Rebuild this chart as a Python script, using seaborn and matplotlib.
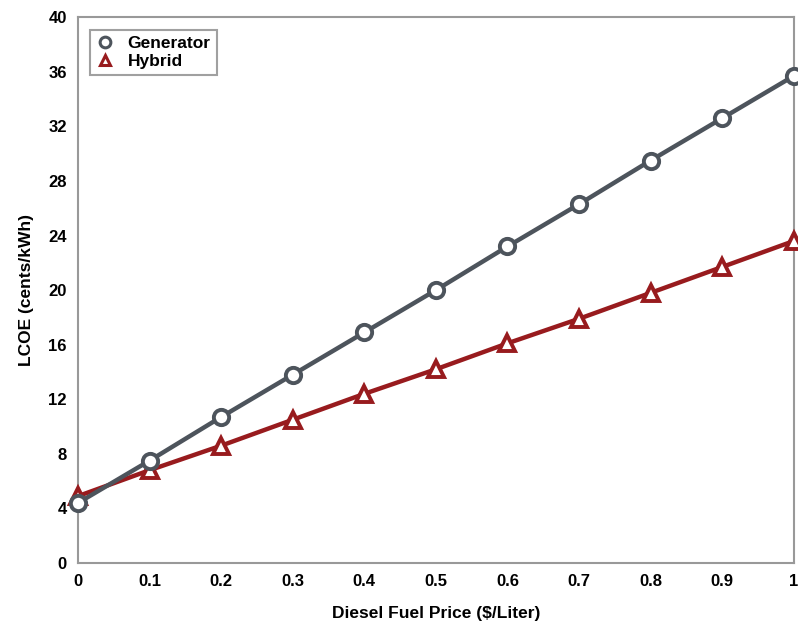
import numpy as np
import matplotlib
matplotlib.use("Agg")
import matplotlib.pyplot as plt
import pandas as pd
import seaborn as sns

# values
fuel_price = [0, 0.1, 0.2, 0.3, 0.4, 0.5, 0.6, 0.7, 0.8, 0.9, 1.0]
generator = [4.4, 7.5, 10.7, 13.8, 16.9, 20.0, 23.2, 26.3, 29.5, 32.6, 35.7]
hybrid = [4.9, 6.8, 8.6, 10.5, 12.4, 14.2, 16.1, 17.9, 19.8, 21.7, 23.6]
x_ticks = [0, 0.1, 0.2, 0.3, 0.4, 0.5, 0.6, 0.7, 0.8, 0.9, 1]
x_tick_labels = ["0", "0.1", "0.2", "0.3", "0.4", "0.5", "0.6", "0.7", "0.8", "0.9", "1"]
y_ticks = [0, 4, 8, 12, 16, 20, 24, 28, 32, 36, 40]

df = pd.DataFrame({"price": fuel_price * 2,
                   "lcoe": generator + hybrid,
                   "system": ["Generator"] * len(generator) + ["Hybrid"] * len(hybrid)})

sns.set_style("white")
plt.rcParams['font.family'] = ['Liberation Sans', 'DejaVu Sans']
plt.rcParams['text.color'] = 'black'
plt.rcParams['axes.labelcolor'] = 'black'
plt.rcParams['xtick.color'] = 'black'
plt.rcParams['ytick.color'] = 'black'

fig = plt.figure(figsize=(7.98, 6.28), dpi=100)
ax = fig.add_axes([0.0977, 0.1035, 0.897, 0.869])

palette = {"Generator": "#4d545c", "Hybrid": "#981b1e"}
sns.lineplot(data=df, x="price", y="lcoe", hue="system", style="system",
             markers={"Generator": "o", "Hybrid": "^"}, dashes=False,
             palette=palette, linewidth=3.2, markersize=11,
             markeredgewidth=2.8, ax=ax, clip_on=False)
# generator line sits on top of the hybrid line, as in the original
for line, z in zip(ax.lines, [4, 3]):
    line.set_markerfacecolor("white")
    line.set_markeredgecolor(line.get_color())
    line.set_zorder(z)

ax.set_xlim(0, 1)
ax.set_ylim(0, 40)
ax.set_xticks(x_ticks)
ax.set_xticklabels(x_tick_labels)
ax.set_yticks(y_ticks)
ax.tick_params(axis="both", length=0, labelsize=12, pad=8)
for lab in ax.get_xticklabels() + ax.get_yticklabels():
    lab.set_fontweight("bold")

for side in ["left", "right", "top", "bottom"]:
    ax.spines[side].set_color("#999999")
    ax.spines[side].set_linewidth(1.5)
    ax.spines[side].set_visible(True)

ax.set_xlabel("Diesel Fuel Price ($/Liter)", fontsize=12.5, fontweight="bold", labelpad=12)
ax.set_ylabel("LCOE (cents/kWh)", fontsize=12.5, fontweight="bold", labelpad=10)

leg = ax.legend(loc="upper left", bbox_to_anchor=(0.005, 0.993), fontsize=12.5,
                frameon=True, fancybox=False, edgecolor="#888888",
                handlelength=1.0, handletextpad=0.8, borderpad=0.35,
                labelspacing=0.15, markerscale=0.7)
leg.get_frame().set_linewidth(1.5)
for t in leg.get_texts():
    t.set_fontweight("bold")
for h in leg.legend_handles:
    h.set_linestyle("none")
    h.set_markerfacecolor("white")
    h.set_markeredgecolor(h.get_color())
    h.set_markeredgewidth(2.2)

fig.savefig("out.png", dpi=100)
